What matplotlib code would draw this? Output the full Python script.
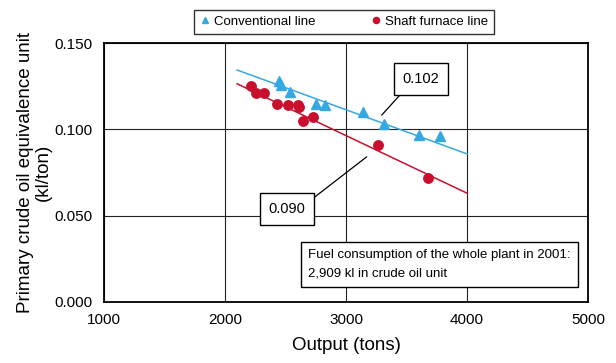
import matplotlib
matplotlib.use("Agg")
import matplotlib.pyplot as plt

plt.rcParams['font.family'] = ['Liberation Sans', 'DejaVu Sans']

# Data
conv_x = [2446, 2463, 2537, 2750, 2823, 3143, 3311, 3603, 3777]
conv_y = [0.128, 0.126, 0.122, 0.115, 0.114, 0.110, 0.103, 0.097, 0.096]
shaft_x = [2212, 2254, 2325, 2432, 2518, 2601, 2614, 2647, 2730, 3267, 3680]
shaft_y = [0.125, 0.121, 0.121, 0.115, 0.114, 0.114, 0.113, 0.105, 0.107, 0.091, 0.072]

trend_x = [2100, 4000]
conv_trend_y = [0.1345, 0.0858]
shaft_trend_y = [0.1265, 0.0630]

x_ticks = [1000, 2000, 3000, 4000, 5000]
y_ticks = [0.000, 0.050, 0.100, 0.150]

blue = '#35A8E2'
red = '#C8102E'

fig = plt.figure(figsize=(6.16, 3.63), dpi=100)
ax = fig.add_axes([104/616, 1-301.7/363, 484/616, 258.4/363])

ax.plot(trend_x, conv_trend_y, color=blue, lw=1.1, zorder=3)
ax.plot(trend_x, shaft_trend_y, color=red, lw=1.1, zorder=3)
ax.plot(conv_x, conv_y, linestyle='none', marker='^', ms=7.5, color=blue,
        mec=blue, zorder=4, label='Conventional line')
ax.plot(shaft_x, shaft_y, linestyle='none', marker='o', ms=6.8, color=red,
        mec=red, zorder=4, label='Shaft furnace line')

ax.set_xlim(1000, 5000)
ax.set_ylim(0, 0.15)
ax.set_xticks(x_ticks)
ax.set_yticks(y_ticks)
ax.set_yticklabels([f'{v:.3f}' for v in y_ticks])
ax.tick_params(length=0, labelsize=11, pad=8)
ax.grid(True, color='#222222', lw=0.8)
ax.set_axisbelow(True)
for s in ax.spines.values():
    s.set_linewidth(1.3)
    s.set_color('black')

ax.set_xlabel('Output (tons)', fontsize=13.5, labelpad=7)
ax.set_ylabel('Primary crude oil equivalence unit\n(kl/ton)', fontsize=13.5,
              labelpad=2, linespacing=1.1)

# callouts
ax.annotate('0.102', xy=(3295, 0.1083), xytext=(3620, 0.1293),
            fontsize=10.5, ha='center', va='center',
            bbox=dict(boxstyle='square,pad=0.6', fc='white', ec='black', lw=1.0),
            arrowprops=dict(arrowstyle='-', color='black', lw=0.9,
                            relpos=(0.15, 0.0), shrinkA=0, shrinkB=0),
            zorder=5)
ax.annotate('0.090', xy=(3171, 0.0841), xytext=(2512, 0.0538),
            fontsize=10.5, ha='center', va='center',
            bbox=dict(boxstyle='square,pad=0.6', fc='white', ec='black', lw=1.0),
            arrowprops=dict(arrowstyle='-', color='black', lw=0.9,
                            relpos=(1.0, 0.84), shrinkA=0, shrinkB=0),
            zorder=5)

ax.text(0.421, 0.144,
        'Fuel consumption of the whole plant in 2001:\n2,909 kl in crude oil unit',
        transform=ax.transAxes, fontsize=9.5, ha='left', va='center',
        linespacing=1.75,
        bbox=dict(boxstyle='square,pad=0.55', fc='white', ec='black', lw=1.0),
        zorder=6)

leg = fig.legend(loc='center', bbox_to_anchor=(344/616, 1-22/363), ncol=2,
                 fontsize=9.5, frameon=True, fancybox=False, markerscale=0.65,
                 handlelength=0.8, handletextpad=0.3, columnspacing=4.2,
                 borderpad=0.45)
leg.get_frame().set_edgecolor('black')
leg.get_frame().set_linewidth(1.0)

fig.savefig('out.png', dpi=100)
